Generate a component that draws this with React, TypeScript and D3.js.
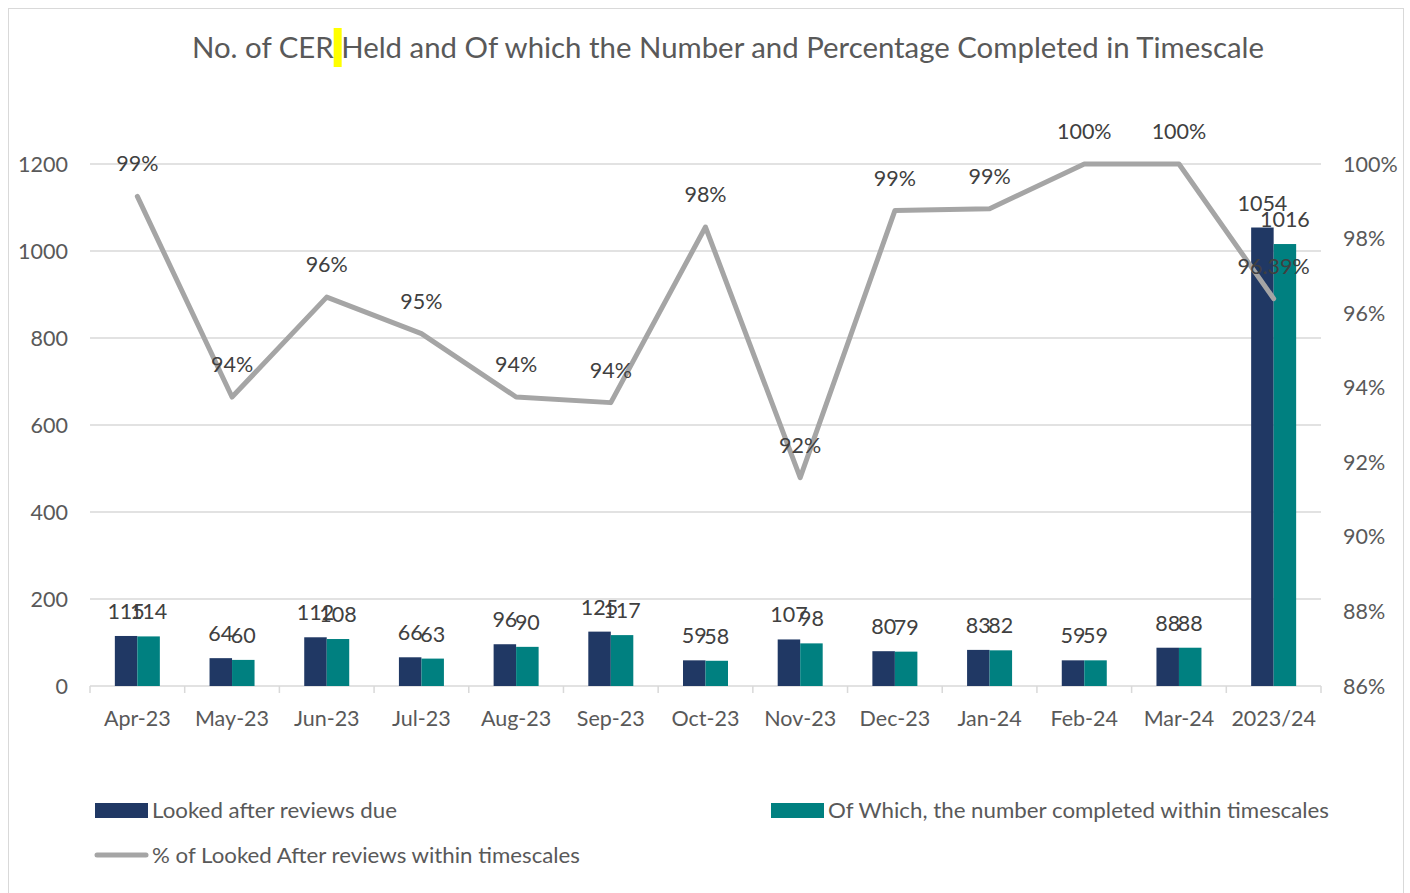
import React, { useEffect, useRef } from "react";
import * as d3 from "d3";

const categories = ["Apr-23","May-23","Jun-23","Jul-23","Aug-23","Sep-23","Oct-23","Nov-23","Dec-23","Jan-24","Feb-24","Mar-24","2023/24"];
const reviewsDue = [115,64,112,66,96,125,59,107,80,83,59,88,1054];
const completed = [114,60,108,63,90,117,58,98,79,82,59,88,1016];
const pctWithin = [99.13,93.75,96.43,95.45,93.75,93.6,98.31,91.59,98.75,98.8,100,100,96.39];
const pctLabels = ["99%","94%","96%","95%","94%","94%","98%","92%","99%","99%","100%","100%","96.39%"];
const leftTicks = [0,200,400,600,800,1000,1200];
const rightTicks = [86,88,90,92,94,96,98,100];

const title = "No. of CER Held and Of which the Number and Percentage Completed in Timescale";
const legendLabels = ["Looked after reviews due","Of Which, the number completed within timescales","% of Looked After reviews within timescales"];

const BLUE = "#203864";
const TEAL = "#008080";
const GREY = "#A5A5A5";
const FONT = "Lato, 'Open Sans', sans-serif";
const FS = 21.5;

export default function App() {
  const titleRef = useRef<SVGTextElement>(null);
  const hlRef = useRef<SVGRectElement>(null);

  const x = d3.scaleBand<string>().domain(categories).range([90, 1321]).padding(0);
  const yL = d3.scaleLinear().domain([0, 1200]).range([686, 164]);
  const yR = d3.scaleLinear().domain([86, 100]).range([686, 164]);
  const bw = 22.5;
  const cx = (c: string) => (x(c) as number) + x.bandwidth() / 2;

  const line = d3.line<number>().x((_, i) => cx(categories[i])).y((v) => yR(v));

  useEffect(() => {
    const t = titleRef.current;
    const r = hlRef.current;
    if (t && r) {
      try {
        const idx = title.indexOf(" Held");
        const start = t.getStartPositionOfChar(idx);
        r.setAttribute("x", String(start.x));
      } catch (e) {}
    }
  }, []);

  const boundaries = d3.range(categories.length + 1).map((i) => 90 + i * x.bandwidth());

  return (
    <svg width={1410} height={893} style={{ position: "absolute", left: 0, top: 0 }} fontFamily={FONT}>
      <rect x={0} y={0} width={1410} height={893} fill="#fff" />
      <rect x={8.5} y={8.5} width={1395} height={890} fill="none" stroke="#D9D9D9" strokeWidth={1} />
      <rect ref={hlRef} x={328} y={28} width={8} height={39} fill="#FFFF00" />
      <text ref={titleRef} x={192} y={58} textAnchor="start" fontSize={28} fill="#595959" textLength={1072} lengthAdjust="spacingAndGlyphs">{title}</text>

      {leftTicks.map((t) => (
        <g key={"g" + t}>
          <line x1={90} x2={1321} y1={yL(t)} y2={yL(t)} stroke="#D9D9D9" strokeWidth={1.5} />
          <text x={68} y={yL(t) + 7.5} textAnchor="end" fontSize={FS} fill="#595959">{t}</text>
        </g>
      ))}
      {rightTicks.map((t) => (
        <text key={"r" + t} x={1343} y={yR(t) + 7.5} textAnchor="start" fontSize={FS} fill="#595959">{t + "%"}</text>
      ))}
      {boundaries.map((b, i) => (
        <line key={"b" + i} x1={b} x2={b} y1={686} y2={693} stroke="#D9D9D9" strokeWidth={1.5} />
      ))}
      {categories.map((c) => (
        <text key={"x" + c} x={cx(c)} y={725.5} textAnchor="middle" fontSize={FS} fill="#595959">{c}</text>
      ))}

      {categories.map((c, i) => (
        <g key={"bar" + c}>
          <rect x={cx(c) - bw} y={yL(reviewsDue[i])} width={bw} height={686 - yL(reviewsDue[i])} fill={BLUE} />
          <rect x={cx(c)} y={yL(completed[i])} width={bw} height={686 - yL(completed[i])} fill={TEAL} />
        </g>
      ))}

      <path d={line(pctWithin) || ""} fill="none" stroke={GREY} strokeWidth={5} strokeLinecap="round" strokeLinejoin="round" />

      {categories.map((c, i) => (
        <g key={"lbl" + c}>
          <text x={cx(c) - bw / 2} y={yL(reviewsDue[i]) - 17} textAnchor="middle" fontSize={FS} fill="#404040">{reviewsDue[i]}</text>
          <text x={cx(c) + bw / 2} y={yL(completed[i]) - 17} textAnchor="middle" fontSize={FS} fill="#404040">{completed[i]}</text>
          <text x={cx(c)} y={yR(pctWithin[i]) - 25} textAnchor="middle" fontSize={FS} fill="#404040">{pctLabels[i]}</text>
        </g>
      ))}

      <rect x={95} y={803} width={53} height={15} fill={BLUE} />
      <text x={152} y={817.5} fontSize={FS} fill="#595959" textLength={245} lengthAdjust="spacingAndGlyphs">{legendLabels[0]}</text>
      <rect x={771} y={803} width={53} height={15} fill={TEAL} />
      <text x={828} y={817.5} fontSize={FS} fill="#595959" textLength={501} lengthAdjust="spacingAndGlyphs">{legendLabels[1]}</text>
      <line x1={97} x2={146} y1={855} y2={855} stroke={GREY} strokeWidth={5} strokeLinecap="round" />
      <text x={152} y={862.5} fontSize={FS} fill="#595959" textLength={428} lengthAdjust="spacingAndGlyphs">{legendLabels[2]}</text>
    </svg>
  );
}
